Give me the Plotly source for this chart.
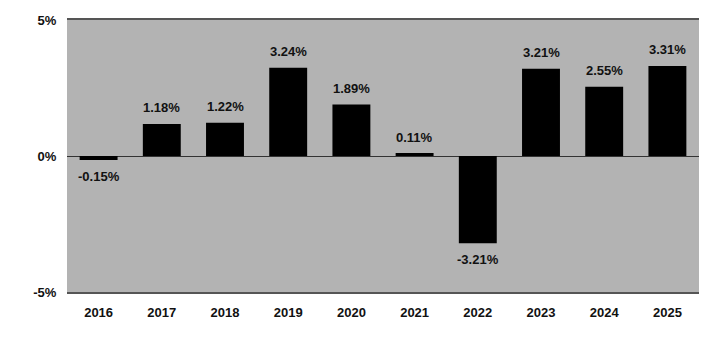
import plotly.graph_objects as go

years = ["2016", "2017", "2018", "2019", "2020", "2021", "2022", "2023", "2024", "2025"]
values = [-0.15, 1.18, 1.22, 3.24, 1.89, 0.11, -3.21, 3.21, 2.55, 3.31]
labels = [f"{v:.2f}%" for v in values]

FONT = "Liberation Sans, Arial, sans-serif"
FS = 13

fig = go.Figure(go.Bar(
    x=years, y=values,
    marker=dict(color="#000000", line=dict(width=0)),
))

# category axis: annotation positions given as category indices
for i, (v, t) in enumerate(zip(values, labels)):
    fig.add_annotation(x=i, y=v, text=t, showarrow=False,
                       yanchor="middle", yshift=16 if v >= 0 else -16,
                       font=dict(family=FONT, size=FS, color="#111111", weight="bold"))

fig.update_layout(
    width=721, height=338,
    margin=dict(l=67, r=22, t=20, b=46),
    paper_bgcolor="white", plot_bgcolor="#B3B3B3",
    bargap=0.4, showlegend=False,
    font=dict(family=FONT, size=FS, color="#111111", weight="bold"),
)
fig.update_xaxes(type="category", showgrid=False, showline=True, mirror=True,
                 linecolor="#555555", linewidth=1.5,
                 ticks="outside", ticklen=8, tickcolor="rgba(0,0,0,0)",
                 tickfont=dict(family=FONT, size=FS, weight="bold"))
fig.update_yaxes(range=[-5, 5], tickvals=[-5, 0, 5], ticktext=["-5%", "0%", "5%"],
                 showgrid=False, showline=False,
                 zeroline=True, zerolinecolor="#333333", zerolinewidth=1,
                 ticks="outside", ticklen=7, tickcolor="rgba(0,0,0,0)",
                 tickfont=dict(family=FONT, size=FS, weight="bold"))

fig.write_html("out.html")
